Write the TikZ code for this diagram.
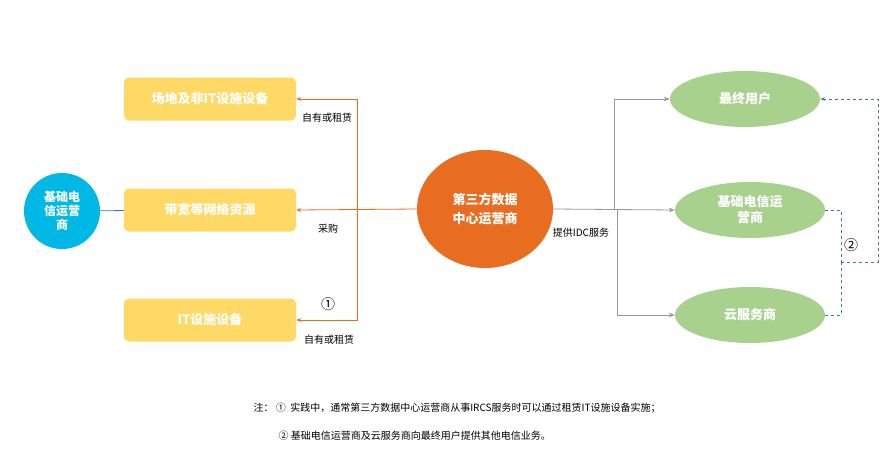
\documentclass[tikz,border=0pt]{standalone}
\usepackage{fontspec}
\setmainfont{Noto Sans CJK SC}
\usetikzlibrary{shapes.geometric,arrows.meta}
\definecolor{boxyellow}{HTML}{FFD966}
\definecolor{opcolor}{HTML}{E96D20}
\definecolor{usergreen}{HTML}{A9D18E}
\definecolor{telcyan}{HTML}{00B8E6}
\definecolor{dashblue}{HTML}{4472C4}
\tikzset{
  resbox/.style={fill=boxyellow, rounded corners=5pt, minimum width=172pt, minimum height=43pt, text=white, font=\bfseries\fontsize{13}{15}\selectfont},
  userell/.style={ellipse, fill=usergreen, minimum width=150pt, minimum height=56pt, text=white, align=center, font=\bfseries\fontsize{13}{16}\selectfont},
  lbl/.style={font=\fontsize{10}{12}\selectfont},
  orangeline/.style={draw=opcolor, thick, -{Stealth[length=5pt]}},
  greyline/.style={draw=gray!80, thick, -{Stealth[length=6pt]}},
  blueline/.style={draw=dashblue, thick, dashed}
}
\begin{document}
\begin{tikzpicture}[x=1pt, y=-1pt]
\useasboundingbox (0,0) rectangle (888,452);
% left side
\node[resbox] (site) at (210,99) {场地及非IT设施设备};
\node[resbox] (band) at (210,210) {带宽等网络资源};
\node[resbox] (itdev) at (210,320) {IT设施设备};
\node[circle, fill=telcyan, minimum size=76pt, inner sep=0pt, text=white, align=center,
  font=\bfseries\fontsize{12}{14}\selectfont] (telco) at (62,211) {基础电\\信运营\\商};
\draw[dashblue, thick] (telco) -- (band);
% centre
\node[ellipse, fill=opcolor, minimum width=136pt, minimum height=118pt, text=white, align=center,
  font=\bfseries\fontsize{13}{19}\selectfont] (idc) at (485,209) {第三方数据\\中心运营商};
% right side
\node[userell] (enduser) at (745,99) {最终用户};
\node[userell] (basetel) at (750,210) {基础电信运\\营商};
\node[userell] (cloud) at (750,315) {云服务商};
% orange arrows
\coordinate (split) at (357,210);
\draw[orangeline] (idc.west) -- (band.east);
\draw[orangeline] (split) |- (site.east);
\draw[orangeline] (split) |- (itdev.east);
\node[lbl] (own1) at (327,118) {自有或租赁};
\node[lbl] (buy) at (328,229) {采购};
\node[lbl, font=\fontsize{14}{16}\selectfont] (n1) at (328,304) {①};
\node[lbl] (own2) at (329,340) {自有或租赁};
% grey arrows
\coordinate (gsplit) at (614,210);
\coordinate (gsplit2) at (617,210);
\draw[greyline] (idc.east) -- (basetel.west);
\draw[greyline] (gsplit) |- (enduser.west);
\draw[greyline] (gsplit2) |- (cloud.west);
\node[lbl] (idcsvc) at (581,233) {提供IDC服务};
% blue dashed
\coordinate (bjoin) at (841,262);
\draw[blueline] (basetel.east) -| (bjoin);
\draw[blueline] (cloud.east) -| (bjoin);
\draw[blueline, -{Stealth[length=5pt]}] (bjoin) -- (878,262) |- (enduser.east);
\node[lbl, font=\fontsize{14}{16}\selectfont] (n2) at (851,245) {②};
% notes
\node[lbl, anchor=west] (note1) at (250,408) {注：\ ①\ \ 实践中，通常第三方数据中心运营商从事IRCS服务时可以通过租赁IT设施设备实施；};
\node[lbl, anchor=west] (note2) at (275,436) {②\ 基础电信运营商及云服务商向最终用户提供其他电信业务。};
\end{tikzpicture}
\end{document}
